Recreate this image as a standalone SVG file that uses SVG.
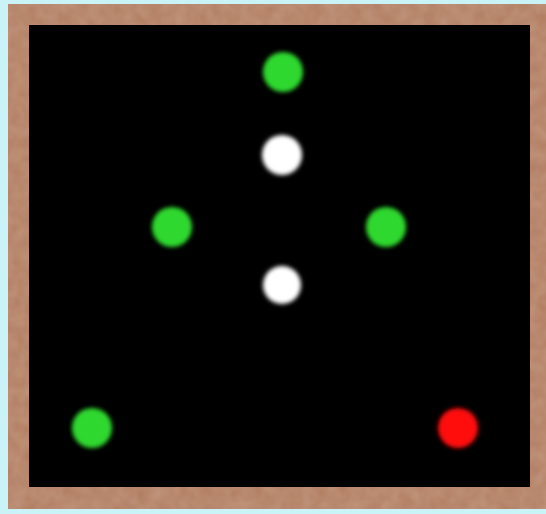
<svg xmlns="http://www.w3.org/2000/svg" width="546" height="514" viewBox="0 0 546 514">
  <defs>
    <filter id="soft" x="-50%" y="-50%" width="200%" height="200%">
      <feGaussianBlur stdDeviation="2.2"/>
    </filter>
    <filter id="grain" x="0" y="0" width="100%" height="100%">
      <feTurbulence type="fractalNoise" baseFrequency="0.08" numOctaves="2" seed="3" result="n"/>
      <feColorMatrix in="n" type="matrix" values="0 0 0 0 0.69  0 0 0 0 0.49  0 0 0 0 0.37  0 0 0 0.35 0" result="c"/>
      <feComposite in="c" in2="SourceGraphic" operator="in" result="t"/>
      <feMerge><feMergeNode in="SourceGraphic"/><feMergeNode in="t"/></feMerge>
    </filter>
  </defs>
  <style>
    .green { fill: #2fd82f; filter: url(#soft); }
    .white { fill: #ffffff; filter: url(#soft); }
    .red { fill: #ff0a0a; filter: url(#soft); }
  </style>
  <rect x="0" y="0" width="546" height="514" fill="#c9f3f7"/>
  <rect x="8" y="4" width="538" height="505" fill="#b17b5e" filter="url(#grain)"/>
  <rect x="29" y="25" width="501" height="462" fill="#000000"/>
  <g id="dots">
    <circle id="g-top" class="green" cx="283" cy="72" r="20"/>
    <circle id="w-top" class="white" cx="282" cy="155" r="20"/>
    <circle id="g-left" class="green" cx="172" cy="227" r="20"/>
    <circle id="g-right" class="green" cx="386" cy="227" r="20"/>
    <circle id="w-mid" class="white" cx="282" cy="285" r="19"/>
    <circle id="g-bl" class="green" cx="92" cy="428" r="20"/>
    <circle id="red" class="red" cx="458" cy="428" r="20"/>
  </g>
</svg>
